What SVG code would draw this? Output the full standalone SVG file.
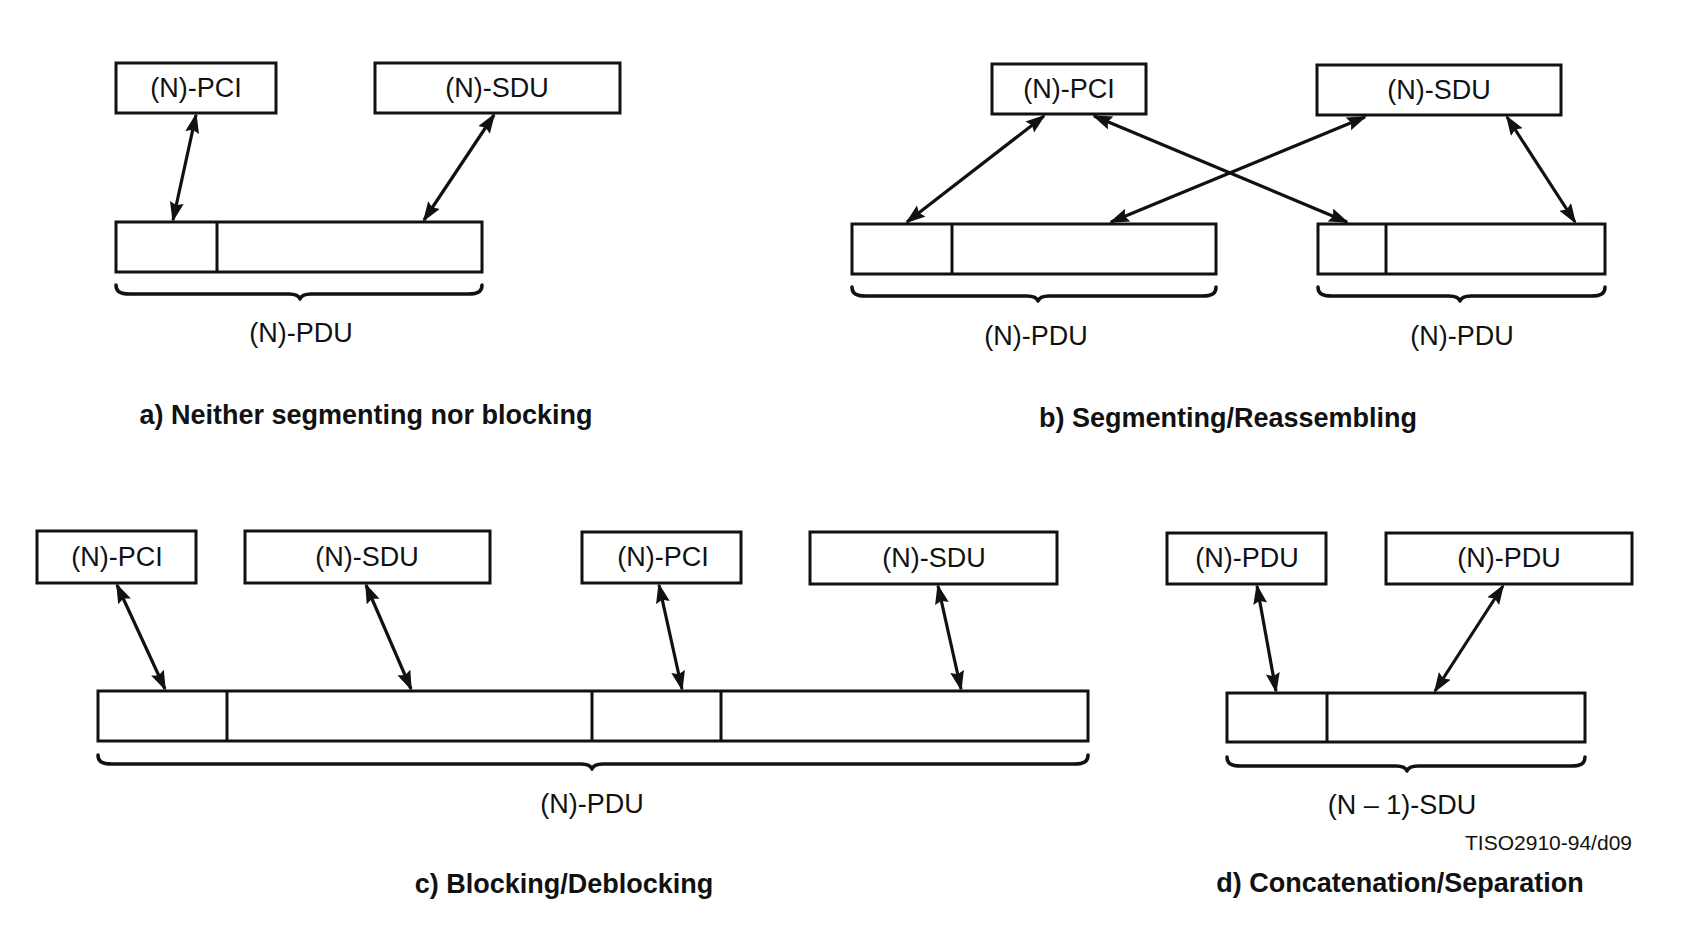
<svg xmlns="http://www.w3.org/2000/svg" width="1700" height="934" viewBox="0 0 1700 934">
<style>
  .box{fill:#fff;stroke:#111;stroke-width:3}
  .div{stroke:#111;stroke-width:3}
  .lbl{font-family:"Liberation Sans",Arial,sans-serif;font-size:27px;fill:#111;text-anchor:middle}
  .ttl{font-family:"Liberation Sans",Arial,sans-serif;font-size:27px;font-weight:bold;fill:#111;text-anchor:middle}
  .note{font-family:"Liberation Sans",Arial,sans-serif;font-size:21px;fill:#111;text-anchor:end}
  .brace{fill:none;stroke:#111;stroke-width:3.5;stroke-linejoin:round;stroke-linecap:round}
  .arr{stroke:#111;stroke-width:3.2;marker-start:url(#ah);marker-end:url(#ah)}
</style>
<defs>
  <marker id="ah" markerUnits="userSpaceOnUse" markerWidth="22" markerHeight="16" refX="18" refY="7" orient="auto-start-reverse">
    <path d="M0,0 L20,7 L0,14 L3,7 z" fill="#111"/>
  </marker>
</defs>
<rect width="1700" height="934" fill="#fff"/>

<!-- a) -->
<g id="a-pci"><rect class="box" x="116" y="63" width="160" height="50"/><text class="lbl" x="196" y="97">(N)-PCI</text></g>
<g id="a-sdu"><rect class="box" x="375" y="63" width="245" height="50"/><text class="lbl" x="497" y="97">(N)-SDU</text></g>
<g id="a-pdu"><rect class="box" x="116" y="222" width="366" height="50"/><line class="div" x1="217" y1="222" x2="217" y2="272"/>
  <path class="brace" d="M116,285 C116,291 119,294 130,294 L289,294 C296,294 299,296 300,299 C301,296 304,294 311,294 L468,294 C479,294 482,291 482,285"/>
  <text class="lbl" x="301" y="342">(N)-PDU</text></g>
<text id="a-title" class="ttl" x="366" y="424">a) Neither segmenting nor blocking</text>

<!-- b) -->
<g id="b-pci"><rect class="box" x="992" y="64" width="154" height="50"/><text class="lbl" x="1069" y="98">(N)-PCI</text></g>
<g id="b-sdu"><rect class="box" x="1317" y="65" width="244" height="50"/><text class="lbl" x="1439" y="99">(N)-SDU</text></g>
<g id="b-pdu1"><rect class="box" x="852" y="224" width="364" height="50"/><line class="div" x1="952" y1="224" x2="952" y2="274"/>
  <path class="brace" d="M852,287 C852,293 855,296 866,296 L1027,296 C1034,296 1037,298 1038,301 C1039,298 1042,296 1049,296 L1202,296 C1213,296 1216,293 1216,287"/>
  <text class="lbl" x="1036" y="345">(N)-PDU</text></g>
<g id="b-pdu2"><rect class="box" x="1318" y="224" width="287" height="50"/><line class="div" x1="1386" y1="224" x2="1386" y2="274"/>
  <path class="brace" d="M1318,287 C1318,293 1321,296 1332,296 L1449,296 C1456,296 1459,298 1460,301 C1461,298 1464,296 1471,296 L1591,296 C1602,296 1605,293 1605,287"/>
  <text class="lbl" x="1462" y="345">(N)-PDU</text></g>
<text id="b-title" class="ttl" x="1228" y="427">b) Segmenting/Reassembling</text>

<!-- c) -->
<g id="c-pci1"><rect class="box" x="37" y="531" width="159" height="52"/><text class="lbl" x="117" y="566">(N)-PCI</text></g>
<g id="c-sdu1"><rect class="box" x="245" y="531" width="245" height="52"/><text class="lbl" x="367" y="566">(N)-SDU</text></g>
<g id="c-pci2"><rect class="box" x="582" y="532" width="159" height="51"/><text class="lbl" x="663" y="566">(N)-PCI</text></g>
<g id="c-sdu2"><rect class="box" x="810" y="532" width="247" height="52"/><text class="lbl" x="934" y="567">(N)-SDU</text></g>
<g id="c-pdu"><rect class="box" x="98" y="691" width="990" height="50"/>
  <line class="div" x1="227" y1="691" x2="227" y2="741"/><line class="div" x1="592" y1="691" x2="592" y2="741"/><line class="div" x1="721" y1="691" x2="721" y2="741"/>
  <path class="brace" d="M98,755 C98,761 101,764 112,764 L581,764 C588,764 591,766 592,769 C593,766 596,764 603,764 L1074,764 C1085,764 1088,761 1088,755"/>
  <text class="lbl" x="592" y="813">(N)-PDU</text></g>
<text id="c-title" class="ttl" x="564" y="893">c) Blocking/Deblocking</text>

<!-- d) -->
<g id="d-pdu1"><rect class="box" x="1167" y="533" width="159" height="51"/><text class="lbl" x="1247" y="567">(N)-PDU</text></g>
<g id="d-pdu2"><rect class="box" x="1386" y="533" width="246" height="51"/><text class="lbl" x="1509" y="567">(N)-PDU</text></g>
<g id="d-sdu"><rect class="box" x="1227" y="693" width="358" height="49"/><line class="div" x1="1327" y1="693" x2="1327" y2="742"/>
  <path class="brace" d="M1227,757 C1227,763 1230,766 1241,766 L1396,766 C1403,766 1406,768 1407,771 C1408,768 1411,766 1418,766 L1571,766 C1582,766 1585,763 1585,757"/>
  <text class="lbl" x="1402" y="814">(N – 1)-SDU</text></g>
<text id="note" class="note" x="1632" y="850">TISO2910-94/d09</text>
<text id="d-title" class="ttl" x="1400" y="892">d) Concatenation/Separation</text>

<g id="connectors">
  <line class="arr" x1="196" y1="115" x2="173" y2="220"/>
  <line class="arr" x1="494" y1="115" x2="424" y2="220"/>
  <line class="arr" x1="1044" y1="116" x2="907" y2="222"/>
  <line class="arr" x1="1094" y1="116" x2="1347" y2="222"/>
  <line class="arr" x1="1365" y1="117" x2="1111" y2="222"/>
  <line class="arr" x1="1507" y1="117" x2="1575" y2="222"/>
  <line class="arr" x1="117" y1="585" x2="165" y2="689"/>
  <line class="arr" x1="366" y1="585" x2="411" y2="689"/>
  <line class="arr" x1="659" y1="585" x2="682" y2="689"/>
  <line class="arr" x1="938" y1="586" x2="961" y2="689"/>
  <line class="arr" x1="1257" y1="586" x2="1276" y2="691"/>
  <line class="arr" x1="1503" y1="586" x2="1435" y2="691"/>
</g>
</svg>
